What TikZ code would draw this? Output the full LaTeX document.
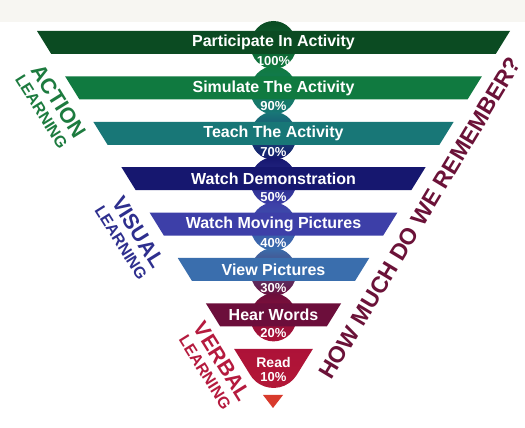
\documentclass[tikz,border=0pt]{standalone}
\usepackage{fontspec}
\setmainfont{Liberation Sans}

\definecolor{bandA}{HTML}{0B4B22}
\definecolor{bandB}{HTML}{107A40}
\definecolor{bandC}{HTML}{187777}
\definecolor{bandD}{HTML}{16176F}
\definecolor{bandE}{HTML}{3D3FA8}
\definecolor{bandF}{HTML}{3A6EAD}
\definecolor{bandG}{HTML}{6C0E3B}
\definecolor{bandH}{HTML}{AD1238}
\definecolor{tipred}{HTML}{D83A2C}
\definecolor{actiongreen}{HTML}{1D7B3F}
\definecolor{visualblue}{HTML}{2E2F8E}
\definecolor{verbalred}{HTML}{B51A3E}
\definecolor{howred}{HTML}{6B1238}
\definecolor{topstrip}{HTML}{F7F6F2}

\newcommand{\bigword}[1]{{\fontsize{21.5}{18.6}\selectfont #1}}

\tikzset{
  bandtext/.style={text=white, font=\bfseries\fontsize{16}{16}\selectfont, inner sep=0pt},
  pcttext/.style={text=white, font=\bfseries\fontsize{13}{13}\selectfont, inner sep=0pt},
  sidetext/.style={font=\bfseries\fontsize{16}{18.6}\selectfont, rotate=-58, align=center, inner sep=0pt}
}

\begin{document}
\begin{tikzpicture}[x=1pt, y=1pt]
\useasboundingbox (0,0) rectangle (525,428);
\fill[white] (0,0) rectangle (525,428);
\fill[topstrip] (0,406) rectangle (525,428);

% bands
\foreach \k/\col/\nxt in {0/bandA/bandB, 1/bandB/bandC, 2/bandC/bandD, 3/bandD/bandE,
                          4/bandE/bandF, 5/bandF/bandG, 6/bandG/bandH}{
  \pgfmathsetmacro{\T}{397-45.4*\k}
  \pgfmathsetmacro{\B}{\T-23}
  \pgfmathsetmacro{\xl}{37+28.15*\k}
  \pgfmathsetmacro{\xr}{510-28.15*\k}
  \shade[top color=\col, middle color=\col, bottom color=\nxt] (273.5,\T-14) ellipse [x radius=23, y radius=24]; % disc behind band
  \fill[\col] (\xl,\T) -- (\xr,\T) -- (\xr-14.26,\B) -- (\xl+14.26,\B) -- cycle;
}

% last band, rounded tip
\coordinate (readc) at (273.5,67.35);
\shade[top color=bandH, bottom color=bandH!85!tipred]
  (234.05,79.2) -- (312.95,79.2) -- ([shift={(-31.8:27.3)}]readc)
  arc [start angle=-31.8, end angle=-148.2, radius=27.3] -- cycle;
\fill[tipred] (263,33) -- (283,33) -- (273,20) -- cycle;

% band texts
\foreach \k/\txt/\pct in {0/Participate In Activity/100\%, 1/Simulate The Activity/90\%,
                          2/Teach The Activity/70\%, 3/Watch Demonstration/50\%,
                          4/Watch Moving Pictures/40\%, 5/View Pictures/30\%,
                          6/Hear Words/20\%}{
  \pgfmathsetmacro{\T}{397-45.4*\k}
  \node[bandtext] (band\k) at (273.5,\T-11.5) {\txt};
  \node[pcttext] (pct\k) at (273.5,\T-30) {\pct};
}
\node[bandtext, font=\bfseries\fontsize{14}{14}\selectfont] (band7) at (273.5,66) {Read};
\node[pcttext] (pct7) at (273.5,51) {10\%};

% side labels
\node[sidetext, text=actiongreen] (action) at (51,322) {\bigword{ACTION}\\LEARNING};
\node[sidetext, text=visualblue] (visual) at (130.5,191) {\bigword{VISUAL}\\LEARNING};
\node[sidetext, text=verbalred] (verbal) at (214.5,61.5) {\bigword{VERBAL}\\LEARNING};
\node[font=\bfseries\fontsize{23}{24}\selectfont, text=howred, rotate=59, inner sep=0pt] (howmuch) at (420,210) {HOW MUCH DO WE REMEMBER?};

\end{tikzpicture}
\end{document}
